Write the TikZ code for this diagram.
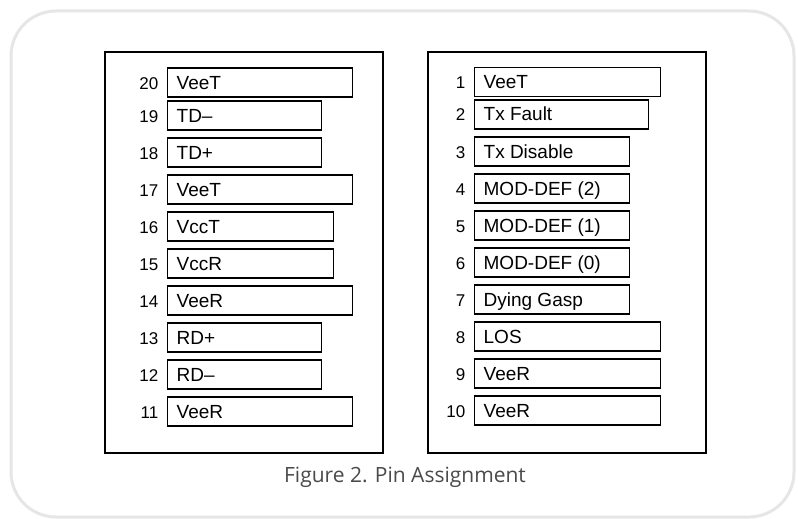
\documentclass[tikz,border=0pt]{standalone}
\usepackage{fontspec}
\setmainfont{Liberation Sans}
\newfontfamily\capfont{Open Sans}
\usepackage{tikz}
\usetikzlibrary{positioning}
\definecolor{framegray}{HTML}{E6E6E6}
\definecolor{capgray}{HTML}{4A4A4A}

\begin{document}
\begin{tikzpicture}[x=1pt,y=-1pt,line width=1.3pt]
    \tikzstyle{pin box}=[draw=black,anchor=west,minimum height=29pt,inner xsep=9pt,inner ysep=0pt,
        font=\fontsize{19}{21}\selectfont,text height=13pt,text depth=0pt]
    \tikzstyle{pin num}=[inner sep=0pt,font=\fontsize{17}{19}\selectfont]
    \tikzstyle{panel}=[draw=black,line width=1.3pt]

    \useasboundingbox (0,0) rectangle (798,519);

    % Draw the outer frame
    \draw[framegray,line width=3pt,fill=white,rounded corners=45pt] (11,11) rectangle (794,517);

    % Draw the two panels
    \draw[panel] (105,52) rectangle (383,453);
    \draw[panel] (428,52) rectangle (706,453);

    % Draw the pins 20 to 11 on the left
    \foreach \name / \lab / \w / \y in {20/VeeT/185/82.5, 19/TD--/154/115.5, 18/TD+/154/152.5,
        17/VeeT/185/189.5, 16/VccT/166/226.5, 15/VccR/166/263.5, 14/VeeR/185/300.5,
        13/RD+/154/337.5, 12/RD--/154/374.5, 11/VeeR/185/411.5}
    {
        \pgfmathsetmacro\tw{\w-18}
        \node[pin box] (P-\name) at (167,\y) {\makebox[\tw pt][l]{\lab}};
        \node[pin num,anchor=base east] (N-\name) at ([xshift=-8pt]P-\name.base west) {\name};
    }

    % Draw the pins 1 to 10 on the right
    \foreach \name / \lab / \w / \y in {1/VeeT/186/82, 2/Tx Fault/174/114.5, 3/Tx Disable/155/151.5,
        4/MOD-DEF (2)/155/188.5, 5/MOD-DEF (1)/155/225.5, 6/MOD-DEF (0)/155/262.5,
        7/Dying Gasp/155/299.5, 8/LOS/186/336.5, 9/VeeR/186/373.5, 10/VeeR/186/410.5}
    {
        \pgfmathsetmacro\tw{\w-18}
        \node[pin box] (P-\name) at (474,\y) {\makebox[\tw pt][l]{\lab}};
        \node[pin num,anchor=base east] (N-\name) at ([xshift=-8pt]P-\name.base west) {\name};
    }

    % Caption
    \node[font=\capfont\fontsize{21}{24}\selectfont,text=capgray] (cap) at (405,477) {Figure 2. Pin Assignment};
\end{tikzpicture}
\end{document}
